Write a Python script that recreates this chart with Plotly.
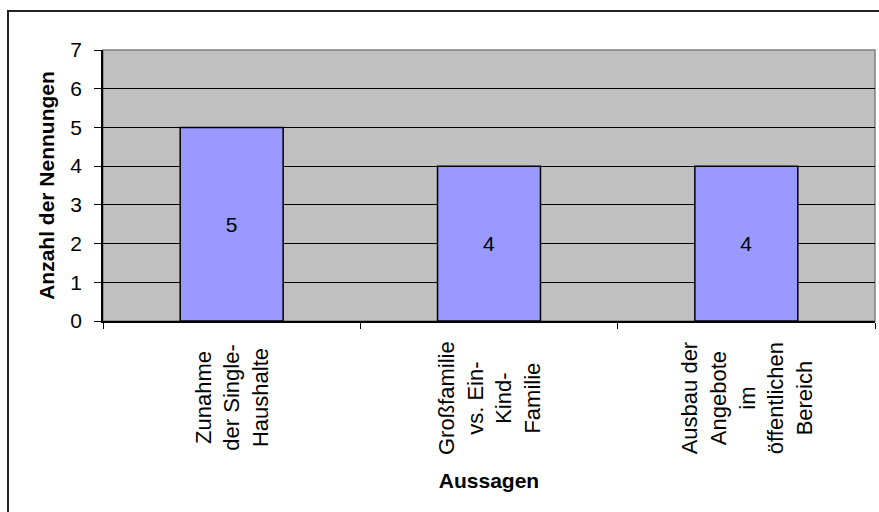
import plotly.graph_objects as go

categories = ["Zunahme<br>der Single-<br>Haushalte",
              "Großfamilie<br>vs. Ein-<br>Kind-<br>Familie",
              "Ausbau der<br>Angebote<br>im<br>öffentlichen<br>Bereich"]
keys = ["c1", "c2", "c3"]
values = [5, 4, 4]
y_ticks = [0, 1, 2, 3, 4, 5, 6, 7]

FONT = "Arial, 'Liberation Sans', sans-serif"
W, H = 879, 512
ML, MR, MT, MB = 103, 4, 50, 191
PW, PH = W - ML - MR, H - MT - MB

def px_x(p):
    return (p - ML) / PW

def px_y(p):
    return (H - MB - p) / PH

fig = go.Figure()
fig.add_trace(go.Bar(
    x=keys, y=values, width=0.4,
    marker=dict(color="#9999FF", line=dict(color="black", width=1.5)),
    text=[str(v) for v in values], textposition="inside",
    insidetextanchor="middle", textangle=0,
    textfont=dict(family=FONT, size=21, color="black"),
    hoverinfo="skip",
))

for k, lab in zip(keys, categories):
    fig.add_annotation(x=k, xref="x", y=px_y(398), yref="paper",
                       text=lab, textangle=-90, align="center",
                       showarrow=False, xanchor="center", yanchor="middle",
                       font=dict(family=FONT, size=22, color="black"))

fig.add_shape(type="rect", xref="paper", yref="paper",
              x0=0, x1=1, y0=0, y1=1, layer="below",
              line=dict(color="#808080", width=1.5))
fig.add_shape(type="rect", xref="paper", yref="paper",
              x0=px_x(8), x1=px_x(W + 5), y0=px_y(H + 5), y1=px_y(11),
              line=dict(color="#222222", width=2))

fig.update_layout(
    width=W, height=H,
    margin=dict(l=ML, r=MR, t=MT, b=MB),
    paper_bgcolor="white", plot_bgcolor="#C0C0C0",
    showlegend=False,
    font=dict(family=FONT, color="black"),
    bargap=0.6,
)
fig.update_xaxes(
    type="category", range=[-0.5, 2.5], categoryorder="array", categoryarray=keys,
    showticklabels=False, tickson="boundaries", ticks="outside", ticklen=6,
    tickcolor="black", showgrid=False, showline=True, linecolor="black",
    linewidth=1.5, zeroline=False, automargin=False,
    title=dict(text="<b>Aussagen</b>", font=dict(family=FONT, size=21, color="black"),
               standoff=152),
)
fig.update_yaxes(
    range=[0, 7], tickvals=y_ticks, ticks="outside", ticklen=7, tickcolor="black",
    tickfont=dict(family=FONT, size=21, color="black"),
    showgrid=True, gridcolor="black", gridwidth=1,
    showline=True, linecolor="black", linewidth=1.5, zeroline=False,
    automargin=False, ticklabelstandoff=8,
    title=dict(text="<b>Anzahl der Nennungen</b>",
               font=dict(family=FONT, size=21, color="black"), standoff=10),
)

fig.write_html("out.html")
